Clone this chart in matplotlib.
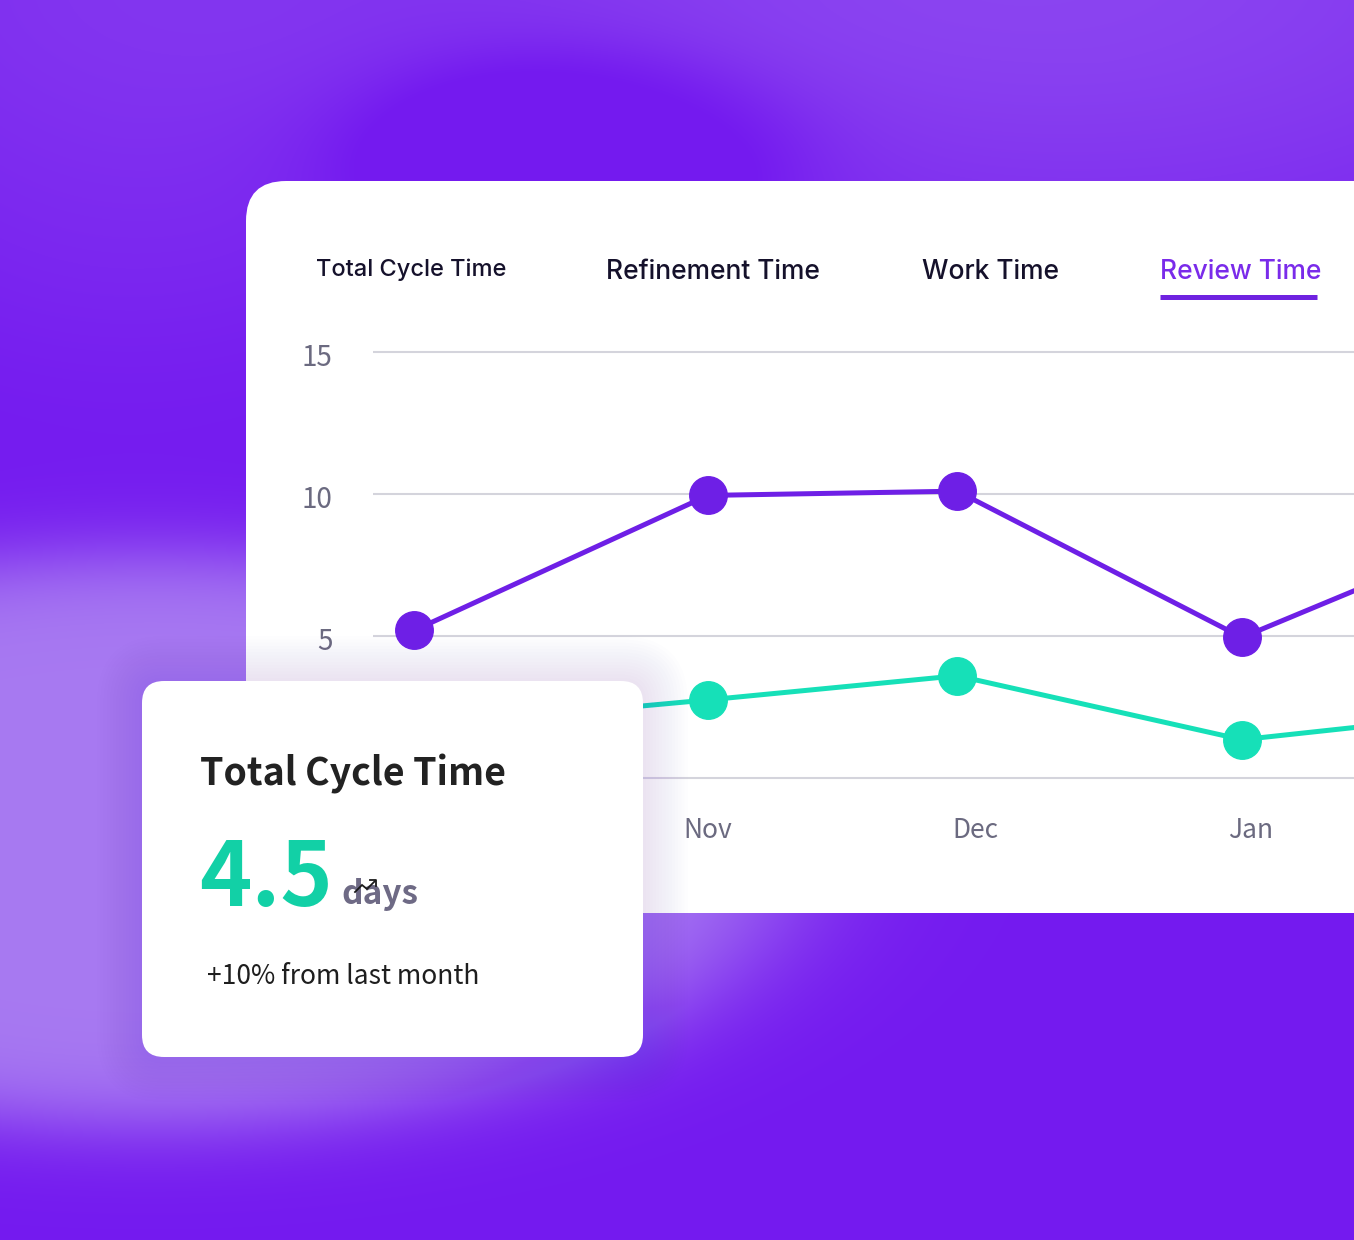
import numpy as np
import matplotlib
matplotlib.use("Agg")
import matplotlib.pyplot as plt
import matplotlib.dates as mdates
from matplotlib.patches import FancyBboxPatch
from matplotlib.transforms import ScaledTranslation
import datetime as dt

# ---------------- data ----------------
dates = ["2023-09-29", "2023-11-01", "2023-11-29", "2023-12-31", "2024-01-28"]
review_time = [5.2, 9.95, 10.1, 4.95, 8.6]
total_cycle = [1.8, 2.75, 3.6, 1.35, 2.3]
yticks = [0, 5, 10, 15]
ytick_labels = ["", "5", "10", "15"]
tabs = ["Total Cycle Time", "Refinement Time", "Work Time", "Review Time"]
card_title = "Total Cycle Time"
card_value = "4.5"
card_unit = "days"
card_note = "+10% from last month"

PURPLE = "#6E1FE6"
TEAL = "#16E0B8"
W, H = 1354, 1240
SANS = ["Noto Sans CJK SC", "Noto Sans", "DejaVu Sans"]

fig = plt.figure(figsize=(W / 100, H / 100), dpi=100)

# ---------------- background ----------------
bg = fig.add_axes([0, 0, 1, 1], zorder=0)
Y, X = np.mgrid[0:H, 0:W].astype(float)

def blob(cx, cy, rx, ry, soft):
    d = np.sqrt(((X - cx) / rx) ** 2 + ((Y - cy) / ry) ** 2)
    return 1.0 / (1.0 + np.exp((d - 1.0) / soft))

L = np.zeros_like(X)
L += 0.22 * blob(650, -150, 1000, 230, 0.30)
L += 0.28 * blob(1100, 60, 480, 200, 0.30)
L += 0.15 * blob(120, 130, 260, 200, 0.30)
L -= 0.30 * blob(570, 150, 220, 100, 0.18)
L += 0.92 * blob(150, 840, 640, 285, 0.08)
L = np.clip(L, 0, 1)
dark = np.array([0x74, 0x1A, 0xEF]) / 255
light = np.array([0xAC, 0x82, 0xF2]) / 255
img = dark[None, None, :] * (1 - L[..., None]) + light[None, None, :] * L[..., None]
bg.imshow(img, extent=(0, W, H, 0), interpolation="bilinear", zorder=0)
bg.set_aspect("auto")
bg.set_xlim(0, W)
bg.set_ylim(H, 0)
bg.axis("off")

# main card
main_card = FancyBboxPatch((246, 181), W - 246 + 80, 913 - 181,
                           boxstyle="round,pad=0,rounding_size=40",
                           fc="white", ec="none", zorder=1)
bg.add_patch(main_card)

# tabs
tab_x = [316, 606, 922, 1160]
tab_base = [276, 279, 279, 279]
tab_size = [17, 19, 19, 19]
tab_col = ["#15112B", "#15112B", "#15112B", "#7A2BEA"]
for t, x, yb, s, c in zip(tabs, tab_x, tab_base, tab_size, tab_col):
    bg.text(x, yb, t, fontsize=s, color=c, family="Inter", weight="medium",
            ha="left", va="baseline", zorder=3)
bg.plot([1160, 1317], [297, 297], color="#6F22E0", lw=3.6, solid_capstyle="butt", zorder=3)

# ---------------- chart ----------------
ppu = (778 - 352) / 15.0
ax_top = 352 - 0.5 * ppu
ax_bot = 778 + 0.5 * ppu
ax = fig.add_axes([373 / W, 1 - ax_bot / H, (W - 373) / W, (ax_bot - ax_top) / H], zorder=2)
ax.patch.set_alpha(0)
xd = [dt.datetime.strptime(d, "%Y-%m-%d") for d in dates]
nov1 = dt.datetime(2023, 11, 1)
pxday = 8.9
ax.set_xlim(nov1 - dt.timedelta(days=(708 - 373) / pxday), nov1 + dt.timedelta(days=(W - 708) / pxday))
ax.set_ylim(-0.5, 15.5)
ax.set_yticks(yticks)
ax.set_yticklabels(ytick_labels)
ax.xaxis.set_major_locator(mdates.MonthLocator())
ax.xaxis.set_major_formatter(mdates.DateFormatter("%b"))
for s in ax.spines.values():
    s.set_visible(False)
ax.tick_params(axis="both", length=0, labelcolor="#6B6A80")
ax.tick_params(axis="y", pad=29, labelsize=20)
ax.tick_params(axis="x", pad=18, labelsize=19)
for lab in ax.get_xticklabels() + ax.get_yticklabels():
    lab.set_family(SANS)
for lab in ax.get_yticklabels():
    lab.set_transform(lab.get_transform() + ScaledTranslation(0, -0.03, fig.dpi_scale_trans))
ax.grid(axis="y", color="#D4D4DC", lw=1.5)
ax.grid(axis="x", visible=False)
ax.set_axisbelow(True)
ax.plot(xd, review_time, color=PURPLE, lw=3.6, marker="o", ms=27, zorder=3, clip_on=False)
ax.plot(xd, total_cycle, color=TEAL, lw=3.6, marker="o", ms=27, zorder=3, clip_on=False)

# ---------------- overlay card ----------------
ov = fig.add_axes([0, 0, 1, 1], zorder=3)
ov.patch.set_alpha(0)
ov.set_xlim(0, W)
ov.set_ylim(H, 0)
ov.axis("off")
for i in range(14, 0, -1):
    p = 3.2 * i
    ov.add_patch(FancyBboxPatch((142 - p, 681 - p), 501 + 2 * p, 376 + 2 * p,
                                boxstyle=f"round,pad=0,rounding_size={22 + p}",
                                fc="#7444EA", ec="none", alpha=0.006, zorder=1))
ov.add_patch(FancyBboxPatch((142, 681), 501, 376, boxstyle="round,pad=0,rounding_size=22",
                            fc="white", ec="none", zorder=2))
ov.text(200, 786, card_title, fontsize=27, weight="bold", color="#222222",
        family=SANS, ha="left", va="baseline", zorder=3)
ov.text(199, 906, card_value, fontsize=64, weight="bold", color="#12D0A6",
        family=SANS, ha="left", va="baseline", zorder=3)
ov.text(341, 904, card_unit, fontsize=24, weight="bold", color="#6E6A85",
        family=SANS, ha="left", va="baseline", zorder=3)
ov.text(207, 984, card_note, fontsize=19, color="#1E1E1E",
        family=SANS, ha="left", va="baseline", zorder=3)
# small trending icon
ov.plot([355, 362, 367, 375], [892, 885, 889, 881], color="#1A1A1A", lw=1.3, zorder=4,
        solid_joinstyle="miter")
ov.plot([370, 376, 376], [880, 880, 886], color="#1A1A1A", lw=1.3, zorder=4)

fig.savefig("out.png", dpi=100)
